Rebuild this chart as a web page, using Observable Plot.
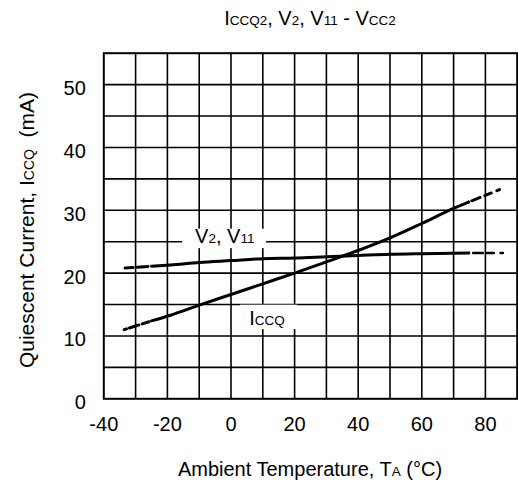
<!DOCTYPE html>
<html><head><meta charset="utf-8">
<script src="https://cdn.jsdelivr.net/npm/d3@7"></script>
<script src="https://cdn.jsdelivr.net/npm/@observablehq/plot@0.6"></script>
<style>
body{margin:0;background:#fff;}
#chart svg{display:block;}
</style></head><body><div id="chart"></div>
<script>
// ---- data ----
const xTicks = [-40, -20, 0, 20, 40, 60, 80];
const yTicks = [0, 10, 20, 30, 40, 50];
const xGrid = [-30, -20, -10, 0, 10, 20, 30, 40, 50, 60, 70, 80];
const yGrid = [5, 10, 15, 20, 25, 30, 35, 40, 45, 50];

// ICCQ curve (first and last segments are dashed extrapolations)
const iccqTemp = [-33.6, -25, -19, -10, 0, 10, 20, 30, 40, 50, 60, 70, 74.7, 85.5];
const iccqVal  = [11.0, 12.4, 13.3, 14.9, 16.6, 18.3, 20.0, 21.8, 23.6, 25.6, 27.9, 30.3, 31.3, 33.5];

// V2, V11 curve
const v2Temp = [-33.3, -25, -19, -10, 0, 10, 20, 30, 40, 50, 60, 74.8, 86.3];
const v2Val  = [20.8, 21.1, 21.3, 21.7, 22.0, 22.3, 22.4, 22.6, 22.8, 23.0, 23.1, 23.2, 23.2];

const iccq = iccqTemp.map((t, i) => ({t, v: iccqVal[i]}));
const v2 = v2Temp.map((t, i) => ({t, v: v2Val[i]}));

// annotation label boxes (data units)
const boxes = [
  {x1: -15.2, x2: 11.2, y1: 23.9, y2: 27.0},
  {x1: 3.0, x2: 21.0, y1: 11.0, y2: 14.9}
];

const FONT = "'Liberation Sans', Arial, Helvetica, sans-serif";
const curve = "monotone-x";

const chart = Plot.plot({
  width: 518,
  height: 486,
  marginLeft: 103.3,
  marginRight: 1.3,
  marginTop: 52.7,
  marginBottom: 87.7,
  style: {fontFamily: FONT, fontSize: "20px", color: "#000", background: "#fff"},
  x: {domain: [-40, 90]},
  y: {domain: [0, 55]},
  marks: [
    Plot.ruleX(xGrid, {stroke: "#000", strokeWidth: 1.6}),
    Plot.ruleY(yGrid, {stroke: "#000", strokeWidth: 1.6}),
    Plot.frame({stroke: "#000", strokeWidth: 2}),
    Plot.rect(boxes, {x1: "x1", x2: "x2", y1: "y1", y2: "y2", fill: "#fff"}),
    // solid parts
    Plot.line(iccq.slice(1, -1), {x: "t", y: "v", curve, stroke: "#000", strokeWidth: 3}),
    Plot.line(v2.slice(1, -1), {x: "t", y: "v", curve, stroke: "#000", strokeWidth: 3}),
    // dashed starts
    Plot.line(iccq.slice(0, 2), {x: "t", y: "v", stroke: "#000", strokeWidth: 3, strokeDasharray: "2.5,3,10,3.5,7,4.5"}),
    Plot.line(v2.slice(0, 2), {x: "t", y: "v", stroke: "#000", strokeWidth: 3, strokeDasharray: "8,4,11,4.5"}),
    // dashed ends
    Plot.line(iccq.slice(-2), {x: "t", y: "v", stroke: "#000", strokeWidth: 3, strokeDasharray: "0,3.5,9,5,7,6,3,40"}),
    Plot.line(v2.slice(-2), {x: "t", y: "v", stroke: "#000", strokeWidth: 2.5, strokeDasharray: "0,4.3,9.7,4.3,6.7,6.7,2.3,40"}),
    Plot.axisX(xTicks, {tickSize: 0, tickPadding: 18, label: null, fontSize: 20, tickFormat: d => String(d), fill: "#000"}),
    Plot.axisY(yTicks, {tickSize: 0, tickPadding: 18, dy: 4, label: null, fontSize: 20, tickFormat: d => String(d), fill: "#000"})
  ]
});
document.getElementById("chart").appendChild(chart);

// rich text (with subscripts) added into the same SVG
const svg = d3.select(chart);
const sx = chart.scale("x"), sy = chart.scale("y");
function rich(parent, parts, attrs, subSize, mainSize) {
  const t = parent.append("text").attr("font-family", FONT).attr("fill", "#000").attr("font-size", mainSize);
  for (const [k, v] of Object.entries(attrs)) t.attr(k, v);
  for (const [s, sub] of parts) {
    t.append("tspan").attr("font-size", sub ? subSize : mainSize).text(s);
  }
  return t;
}
// title
rich(svg, [["I",0],["CCQ2",1],[", V",0],["2",1],[", V",0],["11",1],[" - V",0],["CC2",1]],
  {x: 310, y: 25, "text-anchor": "middle"}, 13.5, 20);
// x label
rich(svg, [["Ambient Temperature, T",0],["A",1],[" (°C)",0]],
  {x: 310, y: 476, "text-anchor": "middle"}, 13.5, 20);
// y label
rich(svg, [["Quiescent Current, I",0],["CCQ",1],["\u00a0 (mA)",0]],
  {transform: "translate(34,230) rotate(-90)", "text-anchor": "middle"}, 14, 21);
// curve labels
rich(svg, [["V",0],["2",1],[", V",0],["11",1]],
  {x: sx.apply(-1.8), y: sy.apply(25.9) + 7, "text-anchor": "middle"}, 13.5, 20);
rich(svg, [["I",0],["CCQ",1]],
  {x: sx.apply(11.5), y: sy.apply(12.8) + 7, "text-anchor": "middle"}, 13.5, 20);
</script></body></html>
